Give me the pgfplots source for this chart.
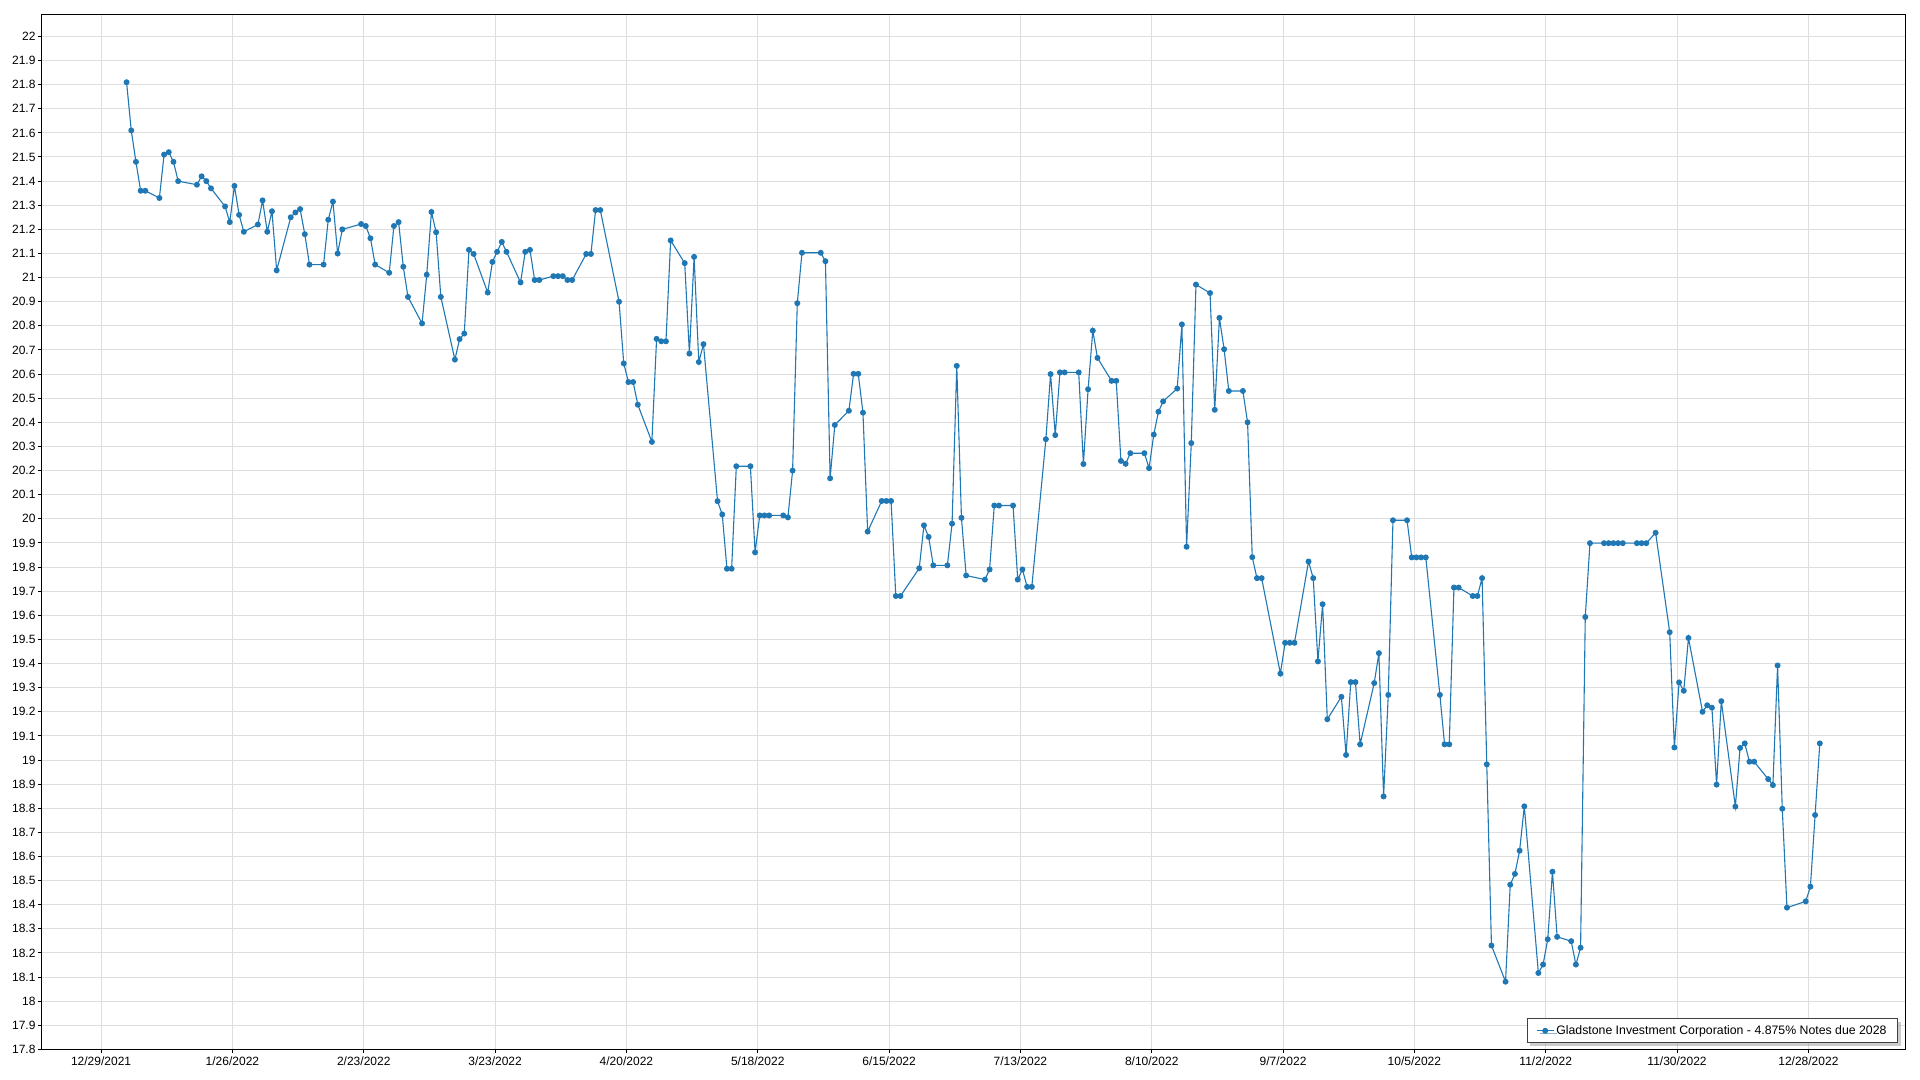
\documentclass[border=0pt]{standalone}
\usepackage{pgfplots}
\pgfplotsset{compat=1.18}
\usepackage{fontspec}
\setmainfont{Liberation Sans}
\usetikzlibrary{shadows}
\definecolor{lineblue}{RGB}{31,119,180}
\definecolor{gridgray}{RGB}{222,222,222}
\begin{document}
\begin{tikzpicture}
\begin{axis}[
  scale only axis,
  width=1863pt, height=1034.8pt,
  xmin=-12.6, xmax=384.6,
  ymin=17.8, ymax=22.09,
  axis line style={black, line width=1pt},
  xtick={0,28,56,84,112,140,168,196,224,252,280,308,336,364},
  xticklabels={12/29/2021,1/26/2022,2/23/2022,3/23/2022,4/20/2022,5/18/2022,6/15/2022,7/13/2022,8/10/2022,9/7/2022,10/5/2022,11/2/2022,11/30/2022,12/28/2022},
  ytick={17.8,17.9,18,18.1,18.2,18.3,18.4,18.5,18.6,18.7,18.8,18.9,19,19.1,19.2,19.3,19.4,19.5,19.6,19.7,19.8,19.9,20,20.1,20.2,20.3,20.4,20.5,20.6,20.7,20.8,20.9,21,21.1,21.2,21.3,21.4,21.5,21.6,21.7,21.8,21.9,22},
  yticklabels={17.8,17.9,18,18.1,18.2,18.3,18.4,18.5,18.6,18.7,18.8,18.9,19,19.1,19.2,19.3,19.4,19.5,19.6,19.7,19.8,19.9,20,20.1,20.2,20.3,20.4,20.5,20.6,20.7,20.8,20.9,21,21.1,21.2,21.3,21.4,21.5,21.6,21.7,21.8,21.9,22},
  tick align=outside,
  xtick pos=left, ytick pos=left,
  major tick length=4pt,
  tick style={black, line width=1pt},
  grid=major,
  major grid style={gridgray, line width=1pt},
  tick label style={font=\fontsize{12}{14}\selectfont, black},
  yticklabel style={xshift=1pt},
  legend style={at={(1,0)}, anchor=south east, xshift=-7pt, yshift=6pt,
    draw=black!75, line width=1pt, fill=white,
    drop shadow={shadow xshift=3pt, shadow yshift=-3pt, fill=black!40},
    font=\fontsize{12.3}{14}\selectfont, inner xsep=9pt, inner ysep=5pt},
  legend cell align=left,
]
\addplot[color=lineblue, line width=1.1pt, mark=*, mark size=2.4pt, mark options={fill=lineblue, draw=lineblue}, x filter/.expression={x+0.43}] coordinates {
(5,21.81)(6,21.61)(7,21.48)(8,21.36)(9,21.36)
(12,21.33)(13,21.51)(14,21.52)(15,21.48)(16,21.40)
(20,21.385)(21,21.42)(22,21.40)(23,21.37)
(26,21.295)(27,21.23)(28,21.38)(29,21.26)(30,21.19)
(33,21.22)(34,21.32)(35,21.19)(36,21.275)(37,21.03)
(40,21.25)(41,21.27)(42,21.284)(43,21.18)(44,21.054)
(47,21.054)(48,21.24)(49,21.315)(50,21.10)(51,21.20)
(55,21.222)(56,21.214)(57,21.163)(58,21.054)
(61,21.02)(62,21.214)(63,21.23)(64,21.045)(65,20.92)
(68,20.81)(69,21.012)(70,21.272)(71,21.188)(72,20.92)
(75,20.66)(76,20.745)(77,20.768)(78,21.115)(79,21.098)
(82,20.938)(83,21.065)(84,21.107)(85,21.148)(86,21.107)
(89,20.98)(90,21.107)(91,21.115)(92,20.99)(93,20.99)
(96,21.006)(97,21.006)(98,21.006)(99,20.99)(100,20.99)
(103,21.098)(104,21.098)(105,21.28)(106,21.28)
(110,20.9)(111,20.644)(112,20.567)(113,20.567)(114,20.473)
(117,20.319)(118,20.746)(119,20.736)(120,20.736)(121,21.154)
(124,21.06)(125,20.685)(126,21.086)(127,20.65)(128,20.724)
(131,20.073)(132,20.018)(133,19.793)(134,19.793)(135,20.218)
(138,20.218)(139,19.861)(140,20.014)(141,20.014)(142,20.014)
(145,20.014)(146,20.006)(147,20.2)(148,20.894)(149,21.103)
(153,21.103)(154,21.068)(155,20.168)(156,20.389)
(159,20.448)(160,20.601)(161,20.601)(162,20.44)(163,19.947)
(166,20.074)(167,20.074)(168,20.074)(169,19.68)(170,19.68)
(174,19.795)(175,19.973)(176,19.925)(177,19.807)
(180,19.807)(181,19.98)(182,20.634)(183,20.004)(184,19.765)
(188,19.748)(189,19.79)(190,20.055)(191,20.055)
(194,20.055)(195,19.748)(196,19.79)(197,19.718)(198,19.718)
(201,20.33)(202,20.6)(203,20.347)(204,20.607)(205,20.607)
(208,20.607)(209,20.227)(210,20.537)(211,20.78)(212,20.667)
(215,20.572)(216,20.572)(217,20.24)(218,20.228)(219,20.272)
(222,20.272)(223,20.21)(224,20.349)(225,20.444)(226,20.487)
(229,20.54)(230,20.806)(231,19.884)(232,20.314)(233,20.971)
(236,20.936)(237,20.452)(238,20.833)(239,20.703)(240,20.53)
(243,20.53)(244,20.4)(245,19.841)(246,19.754)(247,19.754)
(251,19.358)(252,19.486)(253,19.486)(254,19.486)
(257,19.823)(258,19.754)(259,19.409)(260,19.646)(261,19.169)
(264,19.262)(265,19.021)(266,19.323)(267,19.323)(268,19.065)
(271,19.319)(272,19.443)(273,18.849)(274,19.27)(275,19.994)
(278,19.994)(279,19.84)(280,19.84)(281,19.84)(282,19.84)
(285,19.27)(286,19.065)(287,19.065)(288,19.715)(289,19.715)
(292,19.68)(293,19.68)(294,19.754)(295,18.982)(296,18.231)
(299,18.081)(300,18.483)(301,18.528)(302,18.624)(303,18.808)
(306,18.117)(307,18.152)(308,18.257)(309,18.537)(310,18.267)
(313,18.249)(314,18.152)(315,18.222)(316,19.593)(317,19.899)
(320,19.899)(321,19.899)(322,19.899)(323,19.899)(324,19.899)
(327,19.899)(328,19.899)(329,19.899)(331,19.942)
(334,19.530)(335,19.052)(336,19.322)(337,19.287)(338,19.506)
(341,19.2)(342,19.227)(343,19.217)(344,18.898)(345,19.244)
(348,18.807)(349,19.05)(350,19.069)(351,18.993)(352,18.993)
(355,18.921)(356,18.896)(357,19.392)(358,18.798)(359,18.388)
(363,18.414)(364,18.475)(365,18.772)(366,19.069)
};
\addlegendentry{Gladstone Investment Corporation - 4.875\% Notes due 2028}
\end{axis}
\path (current axis.south west) ++(-42pt,-30.5pt) rectangle ([xshift=15pt,yshift=14.7pt]current axis.north east);
\end{tikzpicture}
\end{document}
